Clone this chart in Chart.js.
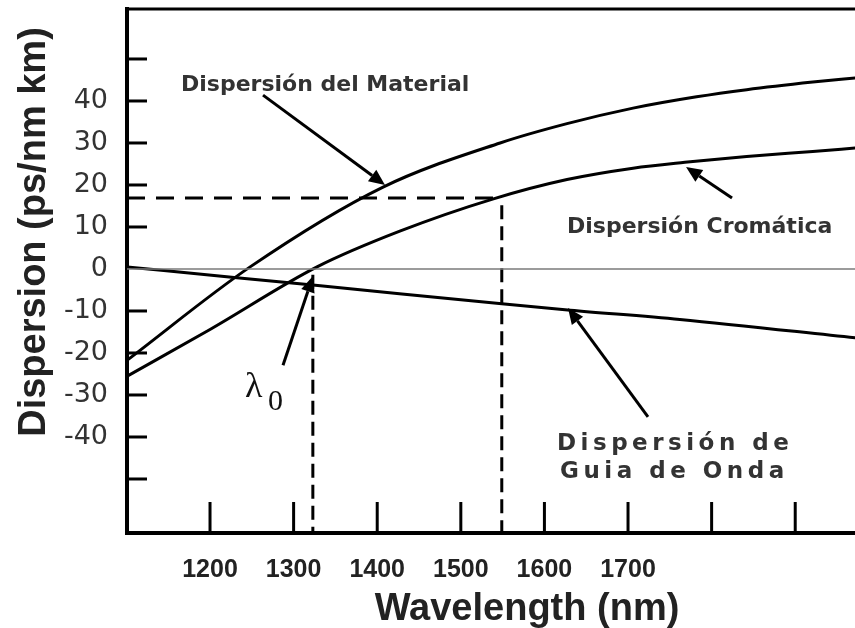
<!DOCTYPE html>
<html><head><meta charset="utf-8">
<script src="https://cdn.jsdelivr.net/npm/chart.js@4.4.0/dist/chart.umd.min.js"></script>
<style>html,body{margin:0;padding:0;background:#fff;}#wrap{width:855px;height:628px;}</style>
</head><body><div id="wrap"><canvas id="c" width="855" height="628"></canvas></div>
<script>
// ---- data (wavelength in nm, dispersion in ps/nm km) ----
const xTickValues = [1200, 1300, 1400, 1500, 1600, 1700, 1800, 1900];
const xTickLabels = ['1200', '1300', '1400', '1500', '1600', '1700', '', ''];
const yTickValues = [-50, -40, -30, -20, -10, 0, 10, 20, 30, 40, 50];
const yTickLabels = ['', '-40', '-30', '-20', '-10', '0', '10', '20', '30', '40', ''];

const materialWl = [1101, 1248, 1407, 1547, 1627, 1706, 1782, 1842, 1921, 1972];
const materialD  = [-21.7, 0.5, 19.5, 30.0, 34.6, 38.3, 41.0, 42.7, 44.5, 45.5];

const chromaticWl = [1101, 1200, 1328, 1427, 1539, 1627, 1706, 1768, 1842, 1921, 1972];
const chromaticD  = [-25.5, -14.4, 0.5, 9.0, 16.7, 21.3, 24.0, 25.4, 26.8, 28.0, 28.8];

const waveguideWl = [1101, 1232, 1332, 1549, 1631, 1762, 1972];
const waveguideD  = [0.5, -2.1, -4.0, -8.3, -9.8, -12.0, -16.4];

const lambdaZero = 1323;        // zero-dispersion wavelength
const lambdaOp = 1549;          // 1550 nm window
const dispAtOp = 16.9;          // chromatic dispersion at 1550 nm
const xRange = [1100.7, 1971.5];
const yRange = [-62.86, 61.9];

// ---- annotations (in data units) ----
const arrows = [
  {from: [1263.4, 41.4], to: [1409.3, 20.0]},
  {from: [1824.4, 16.9], to: [1769.4, 24.3]},
  {from: [1723.9, -35.2], to: [1628.2, -9.3]},
  {from: [1287.3, -22.9], to: [1323.2, -1.7]}
];
const notes = [
  {text: 'Dispersión del Material', at: [1165.3, 42.4], font: 'bold 22px "DejaVu Sans"', spacing: 0},
  {text: 'Dispersión Cromática', at: [1627, 8.6], font: 'bold 22px "DejaVu Sans"', spacing: 0},
  {text: 'Dispersión de', at: [1615, -43.1], font: 'bold 23px "DejaVu Sans"', spacing: 4.5},
  {text: 'Guia de Onda', at: [1618.7, -49.8], font: 'bold 23px "DejaVu Sans"', spacing: 4.5},
  {text: 'λ', at: [1241.9, -30.5], font: '36px "Liberation Serif"', spacing: 0},
  {text: '0', at: [1269.4, -33.6], font: '30px "Liberation Serif"', spacing: 0}
];

const pts = (xs, ys) => xs.map((x, i) => ({x: x, y: ys[i]}));
const solid = (data, color, w) => ({data, borderColor: color, borderWidth: w, pointRadius: 0, fill: false, cubicInterpolationMode: 'monotone'});
const dashed = (data, dash) => ({data, borderColor: '#000', borderWidth: 3, pointRadius: 0, fill: false, borderDash: dash, tension: 0});

const decor = {
  id: 'decor',
  afterDraw(chart) {
    const ctx = chart.ctx, a = chart.chartArea, xs = chart.scales.x, ys = chart.scales.y;
    ctx.save();
    ctx.strokeStyle = '#000';
    ctx.lineWidth = 3;
    ctx.lineCap = 'butt';
    ctx.beginPath(); ctx.moveTo(a.left - 2, a.top); ctx.lineTo(a.right, a.top); ctx.stroke();
    yTickValues.forEach(v => {
      if (v === 0) return;
      const y = ys.getPixelForValue(v);
      ctx.beginPath(); ctx.moveTo(a.left, y); ctx.lineTo(a.left + 20, y); ctx.stroke();
    });
    xTickValues.forEach(v => {
      const x = xs.getPixelForValue(v);
      ctx.beginPath(); ctx.moveTo(x, a.bottom); ctx.lineTo(x, a.bottom - 31); ctx.stroke();
    });
    ctx.fillStyle = '#000';
    arrows.forEach(ar => {
      const x1 = xs.getPixelForValue(ar.from[0]), y1 = ys.getPixelForValue(ar.from[1]);
      const x2 = xs.getPixelForValue(ar.to[0]), y2 = ys.getPixelForValue(ar.to[1]);
      const ang = Math.atan2(y2 - y1, x2 - x1), L = 16, W = 7;
      const bx = x2 - L * Math.cos(ang), by = y2 - L * Math.sin(ang);
      ctx.beginPath(); ctx.moveTo(x1, y1); ctx.lineTo(bx, by); ctx.stroke();
      ctx.beginPath();
      ctx.moveTo(x2, y2);
      ctx.lineTo(bx + W * Math.sin(ang), by - W * Math.cos(ang));
      ctx.lineTo(bx - W * Math.sin(ang), by + W * Math.cos(ang));
      ctx.closePath(); ctx.fill();
    });
    ctx.textBaseline = 'alphabetic';
    ctx.textAlign = 'left';
    notes.forEach(n => {
      ctx.font = n.font;
      ctx.fillStyle = n.text === 'λ' || n.text === '0' ? '#111' : '#333';
      let x = xs.getPixelForValue(n.at[0]);
      const y = ys.getPixelForValue(n.at[1]);
      if (!n.spacing) { ctx.fillText(n.text, x, y); return; }
      for (const ch of n.text) { ctx.fillText(ch, x, y); x += ctx.measureText(ch).width + n.spacing; }
    });
    ctx.fillStyle = '#222';
    ctx.font = 'bold 38px "Liberation Sans"';
    ctx.textAlign = 'center';
    ctx.fillText('Wavelength (nm)', 527, 620);
    ctx.translate(45, 232);
    ctx.rotate(-Math.PI / 2);
    ctx.fillText('Dispersion (ps/nm km)', 0, 0);
    ctx.restore();
  }
};

new Chart(document.getElementById('c'), {
  type: 'line',
  data: {
    datasets: [
      solid(pts(xRange, [0, 0]), '#7a7a7a', 1.5),
      solid(pts(materialWl, materialD), '#000', 3),
      solid(pts(chromaticWl, chromaticD), '#000', 3),
      solid(pts(waveguideWl, waveguideD), '#000', 3),
      dashed(pts([xRange[0], 1538.5], [dispAtOp, dispAtOp]), [18, 11]),
      dashed(pts([lambdaOp, lambdaOp], [15.2, yRange[0]]), [14, 7]),
      dashed(pts([lambdaZero, lambdaZero], [-1.4, yRange[0]]), [14, 7])
    ]
  },
  options: {
    responsive: false,
    devicePixelRatio: 1,
    animation: false,
    events: [],
    layout: {padding: {top: 9, left: 0, right: 0, bottom: 0}},
    plugins: {legend: {display: false}, tooltip: {enabled: false}},
    scales: {
      x: {
        type: 'linear', min: xRange[0], max: xRange[1],
        afterBuildTicks: s => { s.ticks = xTickValues.map(v => ({value: v})); },
        afterFit: s => { s.height = 95; s.paddingLeft = 0; s.paddingRight = 0; },
        ticks: {
          callback: v => xTickLabels[xTickValues.indexOf(v)] ?? '',
          font: {family: 'Liberation Sans', size: 25, weight: 'bold'},
          color: '#222', padding: 22, maxRotation: 0, autoSkip: false
        },
        grid: {display: false, drawTicks: false},
        border: {display: true, color: '#000', width: 4}
      },
      y: {
        type: 'linear', min: yRange[0], max: yRange[1],
        afterBuildTicks: s => { s.ticks = yTickValues.map(v => ({value: v})); },
        afterFit: s => { s.width = 127; s.paddingTop = 0; s.paddingBottom = 0; },
        ticks: {
          callback: v => yTickLabels[yTickValues.indexOf(v)] ?? '',
          font: {family: 'DejaVu Sans', size: 27},
          color: '#333', padding: 19, autoSkip: false
        },
        grid: {display: false, drawTicks: false},
        border: {display: true, color: '#000', width: 4}
      }
    }
  },
  plugins: [decor]
});
</script>
</body></html>
